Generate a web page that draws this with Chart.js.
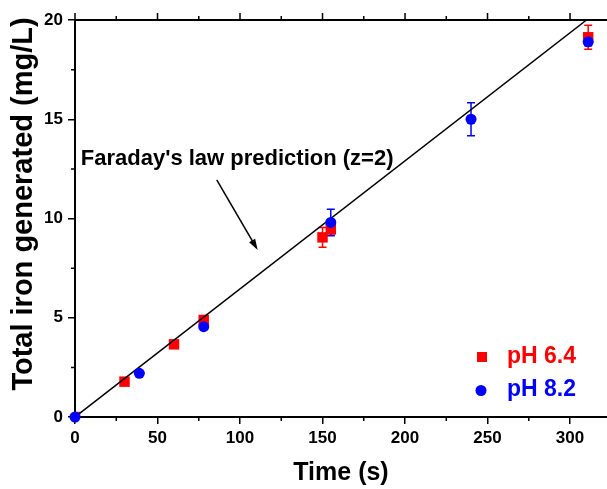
<!DOCTYPE html>
<html>
<head>
<meta charset="utf-8">
<script src="https://cdn.jsdelivr.net/npm/chart.js@4.4.1/dist/chart.umd.min.js"></script>
<style>
  html, body { margin: 0; padding: 0; background: #fff; }
  canvas { display: block; }
</style>
</head>
<body>
<canvas id="iron-chart" width="607" height="489"></canvas>
<script>
// Data
const timeRed = [0, 30, 60, 78, 150, 155, 311];
const ironRed = [0, 1.78, 3.66, 4.89, 9.05, 9.45, 19.13];
const errRed = [0, 0, 0, 0, 0.5, 0.3, 0.6];

const timeBlue = [0, 39, 78, 155, 240, 311];
const ironBlue = [0, 2.2, 4.55, 9.8, 15.0, 18.9];
const errBlue = [0, 0, 0, 0.67, 0.83, 0.2];

// Faraday's law line (z=2)
const lawTime = [0, 310];
const lawIron = [0, 20];

const seriesLabels = ['pH 6.4', 'pH 8.2'];

const FONT = '"Liberation Sans", Arial, Helvetica, sans-serif';
Chart.defaults.font.family = FONT;
Chart.defaults.color = '#000';

const toPoints = (xs, ys) => xs.map((x, i) => ({ x: x, y: ys[i] }));

// annotation placement, in data units
const note = {
  text: "Faraday's law prediction (z=2)",
  at: [3.5, 13.0],
  arrowFrom: [85.9, 11.94],
  arrowTo: [110.7, 8.41],
};

// Error bars drawn under the markers
const errorBars = {
  id: 'errorBars',
  beforeDatasetsDraw(chart) {
    const ctx = chart.ctx;
    const ys = chart.scales.y;
    chart.data.datasets.forEach((ds, i) => {
      if (!ds.errors) return;
      const meta = chart.getDatasetMeta(i);
      ctx.save();
      ctx.strokeStyle = ds.borderColor;
      ctx.lineWidth = 1.5;
      meta.data.forEach((pt, j) => {
        const e = ds.errors[j];
        if (!e) return;
        const v = ds.data[j].y;
        const top = ys.getPixelForValue(v + e);
        const bot = ys.getPixelForValue(v - e);
        ctx.beginPath();
        ctx.moveTo(pt.x, top); ctx.lineTo(pt.x, bot);
        ctx.moveTo(pt.x - 4, top); ctx.lineTo(pt.x + 4, top);
        ctx.moveTo(pt.x - 4, bot); ctx.lineTo(pt.x + 4, bot);
        ctx.stroke();
      });
      ctx.restore();
    });
  }
};

// Top axis, minor ticks, annotation, legend and y title
const extras = {
  id: 'extras',
  afterDraw(chart) {
    const ctx = chart.ctx;
    const a = chart.chartArea;
    const xs = chart.scales.x, ys = chart.scales.y;
    ctx.save();
    ctx.strokeStyle = '#000';

    // top frame line
    ctx.lineWidth = 2;
    ctx.beginPath();
    ctx.moveTo(a.left - 1, a.top); ctx.lineTo(a.right, a.top);
    ctx.stroke();

    ctx.lineWidth = 1.5;
    ctx.beginPath();
    for (let v = 0; v <= xs.max; v += 25) {
      const px = xs.getPixelForValue(v);
      const len = v % 50 === 0 ? 7 : 4;
      ctx.moveTo(px, a.top); ctx.lineTo(px, a.top - len);
      if (v % 50 !== 0) { ctx.moveTo(px, a.bottom); ctx.lineTo(px, a.bottom + 4); }
    }
    for (let v = 2.5; v < ys.max; v += 5) {
      const py = ys.getPixelForValue(v);
      ctx.moveTo(a.left, py); ctx.lineTo(a.left - 4, py);
    }
    ctx.stroke();

    // annotation text and arrow
    ctx.fillStyle = '#000';
    ctx.font = 'bold 22px ' + FONT;
    ctx.textAlign = 'left';
    ctx.textBaseline = 'middle';
    ctx.fillText(note.text, xs.getPixelForValue(note.at[0]), ys.getPixelForValue(note.at[1]));

    const x1 = xs.getPixelForValue(note.arrowFrom[0]), y1 = ys.getPixelForValue(note.arrowFrom[1]);
    const x2 = xs.getPixelForValue(note.arrowTo[0]), y2 = ys.getPixelForValue(note.arrowTo[1]);
    const ang = Math.atan2(y2 - y1, x2 - x1);
    ctx.lineWidth = 1.5;
    ctx.beginPath();
    ctx.moveTo(x1, y1);
    ctx.lineTo(x2 - 8 * Math.cos(ang), y2 - 8 * Math.sin(ang));
    ctx.stroke();
    ctx.beginPath();
    ctx.moveTo(x2, y2);
    ctx.lineTo(x2 - 11 * Math.cos(ang) + 3.5 * Math.sin(ang), y2 - 11 * Math.sin(ang) - 3.5 * Math.cos(ang));
    ctx.lineTo(x2 - 11 * Math.cos(ang) - 3.5 * Math.sin(ang), y2 - 11 * Math.sin(ang) + 3.5 * Math.cos(ang));
    ctx.closePath();
    ctx.fill();

    // legend
    const ds = chart.data.datasets;
    ctx.font = 'bold 23px ' + FONT;
    ctx.fillStyle = ds[0].backgroundColor;
    ctx.fillRect(477, 352, 10, 10);
    ctx.fillText(seriesLabels[0], 507, 357);
    ctx.fillStyle = ds[2].backgroundColor;
    ctx.beginPath();
    ctx.arc(481, 390.5, 5.5, 0, Math.PI * 2);
    ctx.fill();
    ctx.fillText(seriesLabels[1], 507, 390);

    // y axis title
    ctx.fillStyle = '#000';
    ctx.font = 'bold 29px ' + FONT;
    ctx.translate(24, 204);
    ctx.rotate(-Math.PI / 2);
    ctx.textAlign = 'center';
    ctx.fillText('Total iron generated (mg/L)', 0, 0);
    ctx.restore();
  }
};

new Chart(document.getElementById('iron-chart'), {
  type: 'scatter',
  data: {
    datasets: [
      {
        label: seriesLabels[0],
        data: toPoints(timeRed, ironRed),
        errors: errRed,
        backgroundColor: '#ff0000',
        borderColor: '#ff0000',
        pointStyle: 'rect',
        pointRadius: 7.4,
        borderWidth: 0,
        order: 2,
      },
      {
        label: 'Faraday',
        type: 'line',
        data: toPoints(lawTime, lawIron),
        borderColor: '#000',
        borderWidth: 1.5,
        pointRadius: 0,
        fill: false,
        order: 1,
      },
      {
        label: seriesLabels[1],
        data: toPoints(timeBlue, ironBlue),
        errors: errBlue,
        backgroundColor: '#0000ff',
        borderColor: '#0000ff',
        pointStyle: 'circle',
        pointRadius: 5.5,
        borderWidth: 0,
        clip: false,
        order: 0,
      }
    ]
  },
  options: {
    responsive: false,
    animation: false,
    layout: { autoPadding: false, padding: { top: 20, right: 0, left: 0, bottom: 0 } },
    plugins: {
      legend: { display: false },
      tooltip: { enabled: false },
    },
    scales: {
      x: {
        type: 'linear',
        min: 0,
        max: 322.4,
        afterFit: s => { s.height = 72; s.paddingRight = 0; s.paddingLeft = 0; },
        border: { display: true, color: '#000', width: 2 },
        grid: { drawOnChartArea: false, drawTicks: true, tickLength: 7, color: '#000', lineWidth: 1.5 },
        ticks: {
          stepSize: 50,
          includeBounds: false,
          maxRotation: 0,
          padding: 4,
          color: '#000',
          font: { size: 17, weight: 'bold' },
        },
        title: {
          display: true,
          text: 'Time (s)',
          color: '#000',
          font: { size: 25, weight: 'bold' },
          padding: { top: 0, bottom: 1 },
        },
      },
      y: {
        min: 0,
        max: 20,
        afterFit: s => { s.width = 75; s.paddingTop = 0; s.paddingBottom = 0; },
        border: { display: true, color: '#000', width: 2 },
        grid: { drawOnChartArea: false, drawTicks: true, tickLength: 7, color: '#000', lineWidth: 1.5 },
        ticks: {
          stepSize: 5,
          padding: 5,
          color: '#000',
          font: { size: 17, weight: 'bold' },
        },
      },
    },
  },
  plugins: [errorBars, extras],
});
</script>
</body>
</html>
